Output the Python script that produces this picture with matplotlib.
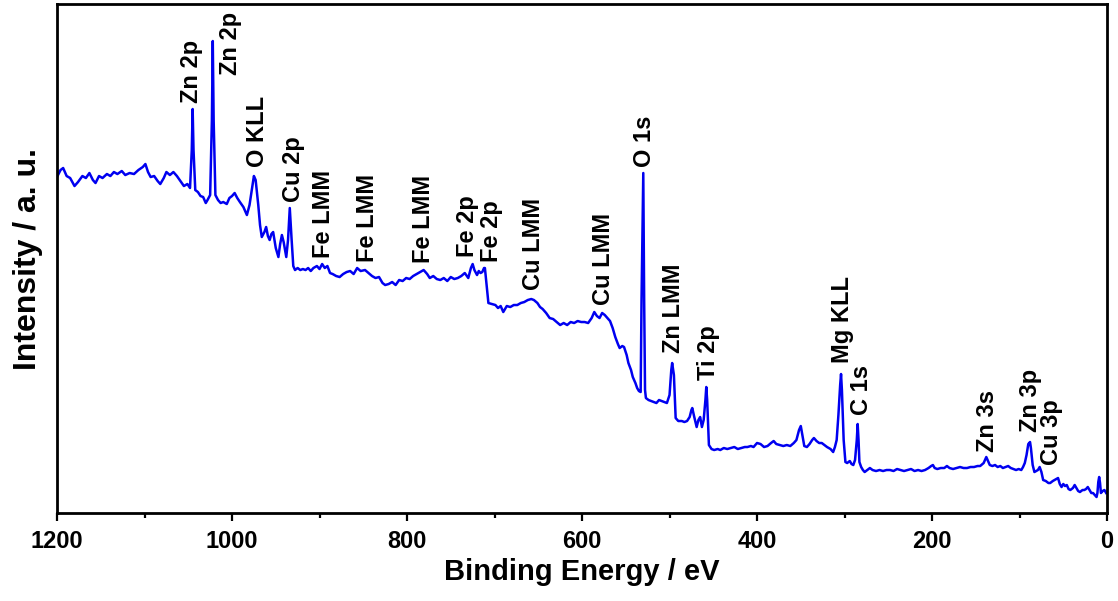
#XPS survey spectrum

#importing the libraries
import numpy as np
import matplotlib
matplotlib.use('Agg')
import matplotlib.pyplot as plt
from matplotlib.ticker import MultipleLocator

plt.rcParams['font.family'] = ['Liberation Sans', 'DejaVu Sans']
plt.rcParams['font.weight'] = 'bold'

#spectrum (binding energy in eV, intensity in a. u.)
binding_energy = [
    1200, 1196, 1193, 1189, 1185, 1180, 1176, 1171, 1167, 1163, 1159, 1156, 1152, 1148, 1143, 1139,
    1135, 1131, 1126, 1122, 1117, 1112, 1107, 1102, 1099, 1096, 1093, 1089, 1085, 1082, 1078, 1075,
    1071, 1067, 1063, 1059, 1055, 1051, 1048, 1046, 1045, 1044, 1042, 1039, 1036, 1033, 1030, 1028,
    1025, 1023, 1022, 1021, 1019, 1016, 1013, 1010, 1006, 1003, 1000, 997, 994, 991, 987, 983,
    980, 977, 975, 973, 970, 968, 966, 963, 961, 959, 957, 955, 953, 950, 947, 945,
    943, 941, 938, 936, 934, 932, 930, 928, 925, 922, 919, 916, 913, 910, 907, 903,
    900, 897, 894, 891, 888, 885, 881, 877, 873, 869, 865, 861, 857, 853, 848, 844,
    840, 836, 832, 828, 825, 821, 817, 813, 809, 805, 801, 797, 793, 789, 785, 781,
    777, 774, 770, 766, 762, 758, 754, 750, 746, 742, 738, 734, 730, 727, 725, 723,
    720, 718, 716, 714, 712, 711, 709, 707, 703, 699, 696, 693, 690, 686, 682, 678,
    674, 670, 666, 662, 658, 655, 651, 648, 645, 641, 637, 633, 629, 625, 621, 617,
    613, 609, 605, 601, 597, 593, 589, 586, 583, 580, 577, 574, 571, 568, 565, 562,
    559, 557, 554, 552, 549, 547, 544, 542, 539, 537, 535, 533, 532, 530, 529, 528,
    527, 524, 521, 518, 515, 512, 509, 506, 503, 500, 498, 497, 495, 493, 490, 486,
    483, 480, 477, 475, 474, 472, 469, 467, 465, 463, 461, 459, 458, 457, 455, 452,
    449, 445, 442, 438, 434, 430, 426, 422, 418, 414, 411, 407, 404, 400, 396, 392,
    388, 384, 381, 378, 374, 370, 366, 362, 358, 355, 352, 350, 348, 346, 343, 340,
    337, 335, 332, 329, 326, 323, 320, 316, 313, 311, 309, 307, 305, 304, 303, 301,
    299, 297, 294, 292, 290, 288, 286, 285, 284, 283, 281, 279, 277, 274, 271, 268,
    264, 260, 256, 252, 248, 244, 240, 236, 232, 228, 224, 220, 216, 212, 208, 204,
    201, 199, 197, 194, 190, 186, 183, 180, 176, 172, 168, 164, 160, 156, 152, 148,
    145, 141, 138, 136, 134, 131, 128, 125, 122, 119, 116, 113, 110, 107, 104, 101,
    98, 96, 94, 92, 90, 88, 87, 85, 83, 81, 79, 77, 75, 73, 70, 67,
    65, 62, 60, 58, 56, 54, 52, 50, 48, 46, 44, 42, 39, 37, 35, 33,
    31, 28, 26, 24, 22, 20, 18, 16, 14, 12, 11, 10, 9, 8, 7, 5,
    3, 1,
]
intensity = [
    336, 343, 345, 337, 335, 327, 331, 337, 335, 340, 333, 330, 337, 335, 339, 337,
    341, 339, 342, 338, 340, 339, 343, 346, 349, 341, 336, 337, 332, 329, 335, 341,
    338, 341, 337, 332, 327, 329, 325, 363, 404, 363, 323, 321, 317, 316, 310, 313,
    318, 393, 472, 393, 318, 313, 310, 311, 309, 315, 317, 320, 315, 311, 306, 298,
    308, 325, 337, 333, 308, 288, 276, 281, 286, 277, 273, 279, 281, 265, 256, 269,
    278, 271, 256, 273, 305, 275, 247, 243, 245, 243, 244, 243, 245, 242, 245, 247,
    244, 249, 245, 247, 240, 239, 237, 236, 239, 241, 242, 239, 245, 242, 243, 240,
    237, 235, 236, 230, 228, 229, 231, 228, 233, 232, 235, 234, 237, 239, 241, 243,
    239, 235, 237, 234, 233, 235, 232, 236, 234, 235, 237, 240, 235, 245, 249, 243,
    238, 242, 240, 241, 245, 245, 228, 210, 209, 208, 205, 207, 201, 207, 206, 208,
    208, 210, 211, 213, 214, 213, 210, 206, 204, 200, 195, 194, 191, 188, 190, 188,
    191, 190, 192, 191, 191, 190, 195, 201, 197, 195, 200, 198, 195, 192, 185, 176,
    169, 165, 167, 166, 158, 150, 143, 136, 130, 125, 122, 121, 213, 340, 213, 123,
    115, 113, 112, 111, 110, 113, 112, 111, 110, 118, 143, 150, 138, 95, 92, 92,
    91, 92, 96, 103, 105, 97, 86, 93, 96, 86, 93, 113, 126, 113, 68, 64,
    63, 64, 63, 65, 64, 65, 66, 64, 65, 66, 66, 67, 66, 70, 69, 66,
    67, 70, 72, 69, 68, 67, 68, 67, 70, 73, 83, 87, 77, 67, 66, 69,
    73, 75, 72, 70, 70, 68, 66, 64, 61, 66, 73, 98, 128, 139, 123, 73,
    51, 50, 52, 49, 48, 53, 73, 89, 73, 51, 46, 43, 41, 43, 45, 43,
    42, 43, 42, 43, 43, 42, 44, 43, 42, 43, 44, 42, 43, 42, 43, 45,
    47, 48, 45, 44, 45, 45, 47, 45, 44, 45, 46, 45, 45, 46, 46, 47,
    47, 50, 56, 52, 48, 47, 48, 46, 47, 45, 46, 47, 45, 44, 43, 44,
    43, 46, 50, 58, 69, 71, 65, 48, 41, 42, 43, 46, 41, 33, 32, 30,
    30, 32, 33, 34, 35, 29, 26, 29, 27, 28, 24, 23, 25, 28, 25, 22,
    21, 23, 23, 24, 26, 23, 20, 20, 18, 16, 20, 31, 36, 30, 20, 22,
    23, 20,
]

#peak assignments
peak_labels = ['Zn 2p', 'Zn 2p', 'O KLL', 'Cu 2p', 'Fe LMM', 'Fe LMM', 'Fe LMM', 'Fe 2p', 'Fe 2p',
               'Cu LMM', 'Cu LMM', 'O 1s', 'Zn LMM', 'Ti 2p', 'Mg KLL', 'C 1s', 'Zn 3s', 'Zn 3p', 'Cu 3p']
label_x = [1046, 1002, 971, 930, 895, 845, 781, 731, 703, 656, 575, 529, 496, 455, 302, 281, 137, 87, 63]
label_y = [410, 438, 346, 311, 255, 251, 250, 256, 251, 223, 208, 346, 160, 133, 150, 98, 61, 81, 48]

fig = plt.figure(figsize=(11.18, 6.01), dpi=100)
ax = fig.add_axes([0.051, 0.1464, 0.9392, 0.8469])

ax.plot(binding_energy, intensity, color='#0000f0', lw=1.8)

for lab, lx, ly in zip(peak_labels, label_x, label_y):
    ax.text(lx, ly, lab, rotation=90, ha='center', va='bottom', fontsize=17, fontweight='bold')

ax.set_xlim(1200, 0)
ax.set_ylim(0, 509)
ax.set_yticks([])
ax.xaxis.set_major_locator(MultipleLocator(200))
ax.xaxis.set_minor_locator(MultipleLocator(100))
ax.tick_params(axis='x', which='major', direction='out', length=6, width=1.6, labelsize=17, pad=6)
ax.tick_params(axis='x', which='minor', direction='out', length=3.5, width=1.6)
for s in ax.spines.values():
    s.set_linewidth(2.0)

ax.set_xlabel('Binding Energy / eV', fontsize=21, fontweight='bold', labelpad=4)
ax.set_ylabel('Intensity / a. u.', fontsize=23, fontweight='bold', labelpad=10)

plt.savefig('out.png', dpi=100)
